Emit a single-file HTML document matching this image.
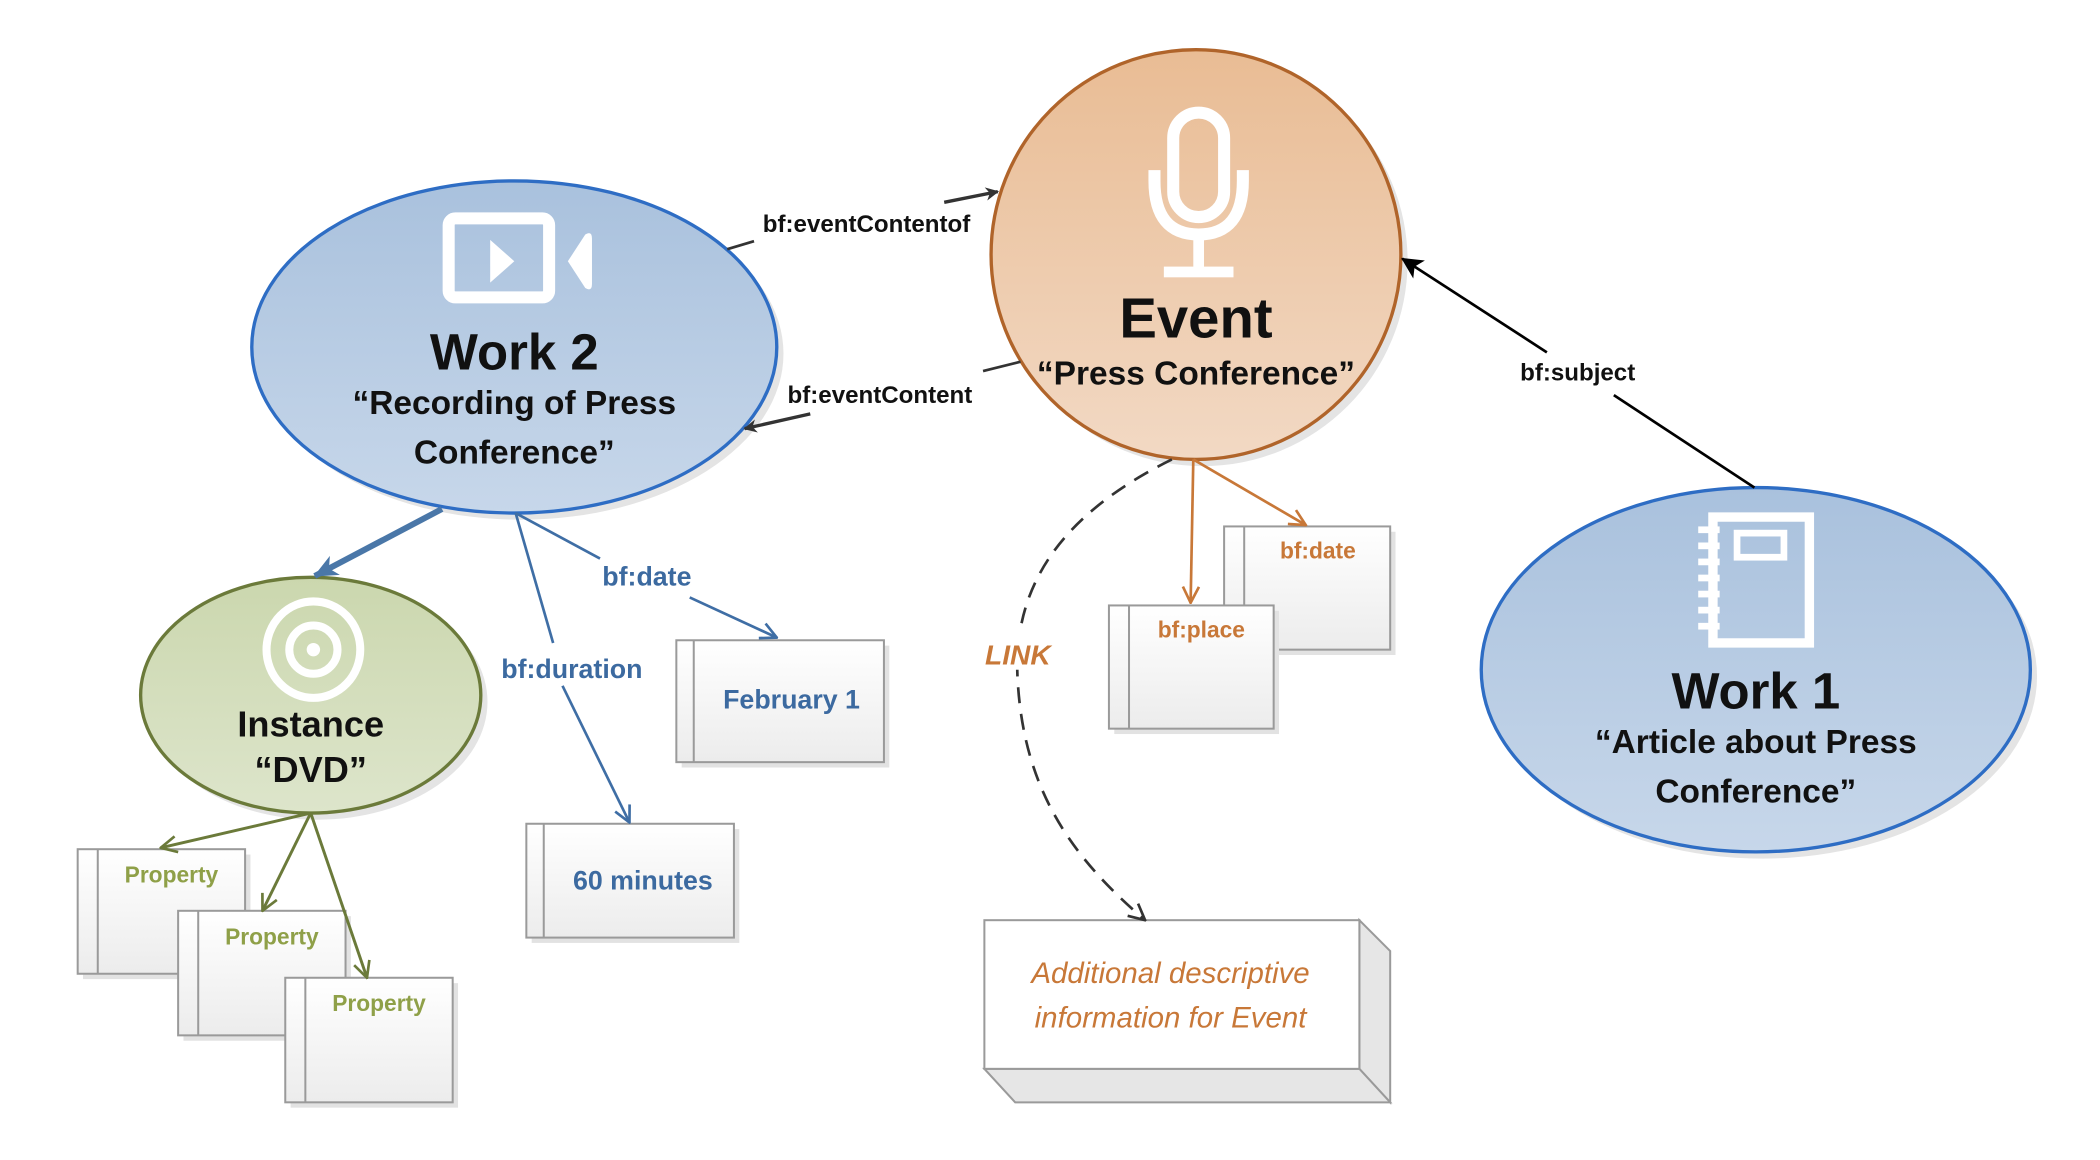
<!DOCTYPE html>
<html><head><meta charset="utf-8"><style>
html,body{margin:0;padding:0;background:#fff;}
svg{display:block;}
text{font-family:"Liberation Sans",sans-serif;}
</style></head><body>
<svg width="2100" height="1160" viewBox="0 0 1568 866" xmlns="http://www.w3.org/2000/svg">
<defs>
<linearGradient id="gb" x1="0" y1="0" x2="0" y2="1"><stop offset="0" stop-color="#a9c1dd"/><stop offset="1" stop-color="#c7d7ea"/></linearGradient>
<linearGradient id="go" x1="0" y1="0" x2="0" y2="1"><stop offset="0" stop-color="#e9bc94"/><stop offset="1" stop-color="#f2d9c4"/></linearGradient>
<linearGradient id="gg" x1="0" y1="0" x2="0" y2="1"><stop offset="0" stop-color="#cbd7ae"/><stop offset="1" stop-color="#dde5cb"/></linearGradient>
<linearGradient id="gw" x1="0" y1="0" x2="0" y2="1"><stop offset="0" stop-color="#ffffff"/><stop offset="1" stop-color="#ececec"/></linearGradient>
<marker id="ak" markerWidth="10" markerHeight="10" refX="9" refY="5" orient="auto" markerUnits="userSpaceOnUse" viewBox="0 0 10 10"><path d="M0,0 L10,5 L0,10 L3,5 z" fill="#333"/></marker>
<marker id="ak2" markerWidth="16" markerHeight="16" refX="15" refY="8" orient="auto" markerUnits="userSpaceOnUse" viewBox="0 0 16 16"><path d="M0,0 L16,8 L0,16 L4,8 z" fill="#000"/></marker>
<marker id="abl" markerWidth="18" markerHeight="18" refX="17" refY="9" orient="auto" markerUnits="userSpaceOnUse" viewBox="0 0 18 18"><path d="M0,1 L18,9 L0,17 L5,9 z" fill="#4a77a8"/></marker>
<marker id="ob" markerWidth="14" markerHeight="14" refX="13" refY="7" orient="auto" markerUnits="userSpaceOnUse" viewBox="0 0 14 14"><path d="M1,1 L13,7 L1,13" fill="none" stroke="#3f6ea5" stroke-width="2"/></marker>
<marker id="og" markerWidth="14" markerHeight="14" refX="13" refY="7" orient="auto" markerUnits="userSpaceOnUse" viewBox="0 0 14 14"><path d="M1,1 L13,7 L1,13" fill="none" stroke="#6b7a3a" stroke-width="2"/></marker>
<marker id="oo" markerWidth="14" markerHeight="14" refX="13" refY="7" orient="auto" markerUnits="userSpaceOnUse" viewBox="0 0 14 14"><path d="M1,1 L13,7 L1,13" fill="none" stroke="#c87838" stroke-width="2"/></marker>
<marker id="od" markerWidth="14" markerHeight="14" refX="13" refY="7" orient="auto" markerUnits="userSpaceOnUse" viewBox="0 0 14 14"><path d="M1,1 L13,7 L1,13" fill="none" stroke="#333" stroke-width="2"/></marker>
</defs>

<!-- shadows -->
<ellipse cx="389" cy="264" rx="196" ry="124" fill="#e4e4e4"/>
<ellipse cx="898" cy="195" rx="153" ry="153" fill="#e4e4e4"/>
<ellipse cx="1316" cy="505" rx="205" ry="136" fill="#e4e4e4"/>
<ellipse cx="237" cy="524" rx="127" ry="88" fill="#e4e4e4"/>

<!-- nodes -->
<ellipse cx="384" cy="259" rx="196" ry="124" fill="url(#gb)" stroke="#2e6dc4" stroke-width="2.5"/>
<ellipse cx="893" cy="190" rx="153" ry="153" fill="url(#go)" stroke="#b0642a" stroke-width="2.5"/>
<ellipse cx="1311" cy="500" rx="205" ry="136" fill="url(#gb)" stroke="#2e6dc4" stroke-width="2.5"/>
<ellipse cx="232" cy="519" rx="127" ry="88" fill="url(#gg)" stroke="#6b7a3a" stroke-width="2.5"/>

<!-- video icon -->
<rect x="335" y="163" width="75" height="59" rx="5" fill="none" stroke="#fff" stroke-width="9"/>
<path d="M366,179 L384,195 L366,211 z" fill="#fff"/>
<path d="M424,195 L437,175 Q442,172 442,178 L442,212 Q442,218 437,215 z" fill="#fff"/>
<!-- mic icon -->
<rect x="876" y="84" width="38" height="78" rx="19" fill="none" stroke="#fff" stroke-width="9"/>
<path d="M862,127 L862,135 Q862,175 895,175 Q928,175 928,135 L928,127" fill="none" stroke="#fff" stroke-width="9"/>
<rect x="891" y="175" width="8" height="28" fill="#fff"/>
<rect x="869" y="199" width="52" height="8" fill="#fff"/>
<!-- notebook icon -->
<rect x="1279" y="386" width="72" height="94" fill="none" stroke="#fff" stroke-width="7"/>
<rect x="1297" y="398" width="35" height="18" fill="none" stroke="#fff" stroke-width="5"/>
<g fill="#fff"><rect x="1268" y="393" width="16" height="5"/><rect x="1268" y="405" width="16" height="5"/><rect x="1268" y="417" width="16" height="5"/><rect x="1268" y="429" width="16" height="5"/><rect x="1268" y="441" width="16" height="5"/><rect x="1268" y="453" width="16" height="5"/><rect x="1268" y="465" width="16" height="5"/></g>
<!-- disc icon -->
<ellipse cx="234" cy="485" rx="35" ry="36" fill="none" stroke="#fff" stroke-width="6"/>
<ellipse cx="234" cy="485" rx="18" ry="18" fill="none" stroke="#fff" stroke-width="6"/>
<circle cx="234" cy="485" r="5" fill="#fff"/>

<!-- node text -->
<g font-weight="bold" text-anchor="middle" fill="#111">
<text x="384" y="276" font-size="38">Work 2</text>
<text x="384" y="309" font-size="25">“Recording of Press</text>
<text x="384" y="346" font-size="25">Conference”</text>
<text x="893" y="252" font-size="42">Event</text>
<text x="893" y="287" font-size="25">“Press Conference”</text>
<text x="1311" y="529" font-size="38">Work 1</text>
<text x="1311" y="562" font-size="25">“Article about Press</text>
<text x="1311" y="599" font-size="25">Conference”</text>
<text x="232" y="550" font-size="27">Instance</text>
<text x="232" y="584" font-size="27">“DVD”</text>
</g>

<!-- boxes -->
<g stroke="#9a9a9a" stroke-width="1.5">
<rect x="509" y="482" width="155" height="91" fill="#e2e2e2" stroke="none"/>
<rect x="505" y="478" width="155" height="91" fill="url(#gw)"/><line x1="518" y1="478" x2="518" y2="569"/>
<rect x="397" y="619" width="155" height="85" fill="#e2e2e2" stroke="none"/>
<rect x="393" y="615" width="155" height="85" fill="url(#gw)"/><line x1="406" y1="615" x2="406" y2="700"/>
<rect x="62" y="638" width="125" height="93" fill="#e2e2e2" stroke="none"/>
<rect x="58" y="634" width="125" height="93" fill="url(#gw)"/><line x1="73" y1="634" x2="73" y2="727"/>
<rect x="137" y="684" width="125" height="93" fill="#e2e2e2" stroke="none"/>
<rect x="133" y="680" width="125" height="93" fill="url(#gw)"/><line x1="148" y1="680" x2="148" y2="773"/>
<rect x="217" y="734" width="125" height="93" fill="#e2e2e2" stroke="none"/>
<rect x="213" y="730" width="125" height="93" fill="url(#gw)"/><line x1="228" y1="730" x2="228" y2="823"/>
<rect x="918" y="397" width="124" height="92" fill="#e2e2e2" stroke="none"/>
<rect x="914" y="393" width="124" height="92" fill="url(#gw)"/><line x1="929" y1="393" x2="929" y2="485"/>
<rect x="832" y="456" width="123" height="92" fill="#e2e2e2" stroke="none"/>
<rect x="828" y="452" width="123" height="92" fill="url(#gw)"/><line x1="843" y1="452" x2="843" y2="544"/>
<!-- 3d box -->
<path d="M1015,687 L1038,710 L1038,823 L1015,798 z" fill="#e6e6e6"/>
<path d="M735,798 L1015,798 L1038,823 L758,823 z" fill="#e6e6e6"/>
<rect x="735" y="687" width="280" height="111" fill="#fff"/>
</g>

<!-- box text -->
<g font-weight="bold" text-anchor="middle">
<text x="591" y="529" font-size="20" fill="#3c6aa0">February 1</text>
<text x="480" y="664" font-size="20" fill="#3c6aa0">60 minutes</text>
<text x="128" y="659" font-size="17" fill="#8fa048">Property</text>
<text x="203" y="705" font-size="17" fill="#8fa048">Property</text>
<text x="283" y="755" font-size="17" fill="#8fa048">Property</text>
<text x="984" y="417" font-size="17" fill="#c87838">bf:date</text>
<text x="897" y="476" font-size="17" fill="#c87838">bf:place</text>
</g>
<g font-style="italic" text-anchor="middle" fill="#c87838" font-size="22">
<text x="874" y="734">Additional descriptive</text>
<text x="874" y="767">information for Event</text>
</g>

<!-- edges -->
<g fill="none">
<path d="M543,186 L563,180" stroke="#333" stroke-width="2"/>
<path d="M705,151 L745,143" stroke="#333" stroke-width="2.5" marker-end="url(#ak)"/>
<path d="M762,270 L734,277" stroke="#333" stroke-width="2"/>
<path d="M605,309 L556,320" stroke="#333" stroke-width="2.5" marker-end="url(#ak)"/>
<path d="M1310,364 L1205,295" stroke="#000" stroke-width="2"/>
<path d="M1155,263 L1047,193" stroke="#000" stroke-width="2" marker-end="url(#ak2)"/>
<path d="M330,380 L235,430" stroke="#4a77a8" stroke-width="4.5" marker-end="url(#abl)"/>
<path d="M385,383 L448,417" stroke="#3f6ea5" stroke-width="2"/>
<path d="M515,446 L580,476" stroke="#3f6ea5" stroke-width="2" marker-end="url(#ob)"/>
<path d="M385,383 L413,480" stroke="#3f6ea5" stroke-width="2"/>
<path d="M420,512 L470,614" stroke="#3f6ea5" stroke-width="2" marker-end="url(#ob)"/>
<path d="M232,607 L120,633" stroke="#6b7a3a" stroke-width="2.2" marker-end="url(#og)"/>
<path d="M232,607 L196,680" stroke="#6b7a3a" stroke-width="2.2" marker-end="url(#og)"/>
<path d="M232,607 L274,730" stroke="#6b7a3a" stroke-width="2.2" marker-end="url(#og)"/>
<path d="M891,343 L889,450" stroke="#c87838" stroke-width="2" marker-end="url(#oo)"/>
<path d="M891,343 L975,392" stroke="#c87838" stroke-width="2" marker-end="url(#oo)"/>
<path d="M875,343 C790,385 755,440 760,510 C765,590 800,640 855,687" stroke="#333" stroke-width="2" stroke-dasharray="12,8" marker-end="url(#od)"/>
</g>
<rect x="740" y="470" width="45" height="30" fill="#fff"/>

<!-- edge labels -->
<g font-weight="bold" text-anchor="middle" font-size="18" fill="#111">
<text x="647" y="173">bf:eventContentof</text>
<text x="657" y="301">bf:eventContent</text>
<text x="1178" y="284">bf:subject</text>
</g>
<g font-weight="bold" text-anchor="middle" font-size="20" fill="#3c6aa0">
<text x="483" y="437">bf:date</text>
<text x="427" y="506">bf:duration</text>
</g>
<text x="760" y="496" font-weight="bold" font-style="italic" text-anchor="middle" font-size="21" fill="#c87838">LINK</text>
</svg>
</body></html>
